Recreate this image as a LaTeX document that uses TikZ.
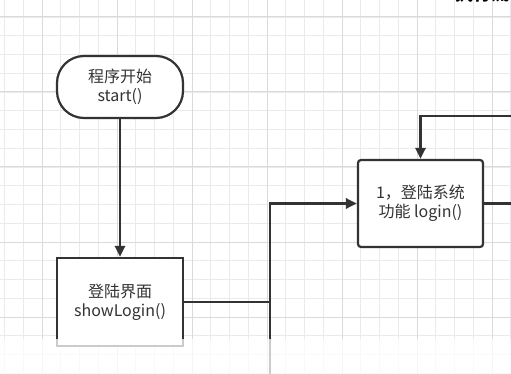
\documentclass[tikz,border=0pt]{standalone}
\usepackage{fontspec}
\setmainfont{Noto Sans CJK SC}
\usetikzlibrary{arrows.meta}
\definecolor{ink}{HTML}{333333}
\definecolor{gridminor}{HTML}{EAEAEA}
\definecolor{gridmajor}{HTML}{DADADA}
\tikzset{
  label/.style={text=ink, align=center, font=\fontsize{16}{19}\selectfont},
  terminal/.style={label, draw=ink, line width=2.2pt, fill=white, rounded corners=27pt,
    minimum width=126pt, minimum height=62pt},
  process/.style={label, draw=ink, line width=2.2pt, fill=white,
    minimum width=126pt, minimum height=88pt},
  flow/.style={draw=ink, line width=2.7pt, -{Triangle[length=11pt,width=10pt]}},
  line/.style={draw=ink, line width=2.7pt},
}
\begin{document}
\begin{tikzpicture}[x=1pt,y=-1pt]
        \useasboundingbox (0,0) rectangle (511,374);
        \clip (0,0) rectangle (511,374);
        \fill[white] (0,0) rectangle (511,374);
        \foreach \i in {0,...,27}
            \draw[gridminor, line width=0.8pt] ({4.5+18.75*\i},0) -- ++(0,374);
        \foreach \i in {0,...,20}
            \draw[gridminor, line width=0.8pt] (0,{-1.75+18.75*\i}) -- ++(511,0);
        \foreach \i in {0,...,6}
            \draw[gridmajor, line width=1pt] ({42+75*\i},0) -- ++(0,374);
        \foreach \i in {0,...,4}
            \draw[gridmajor, line width=1pt] (0,{17+75*\i}) -- ++(511,0);

        \node[anchor=south west, font=\fontsize{18}{18}\selectfont\bfseries] (title) at (452,6) {执行流程};

        \node[terminal] (start) at (120,87) {程序开始\\start()};
        \node[process] (show) at (120,302) {登陆界面\\showLogin()};
        \node[process, rounded corners=3pt, minimum width=125pt, minimum height=87pt] (login) at (420.5,203.5) {1，登陆系统\\功能 login()};

        \coordinate (down) at (270,374);
        \coordinate (back) at (511,116);
        \coordinate (out) at (511,203.5);

        \draw[flow] (start) -- (show);
        \draw[line] (show.east) -- (show.east -| down);
        \draw[flow] (down) |- (login.west);
        \draw[flow] (back) -| (login.north);
        \draw[line] (login.east) -- (out);

        \fill[white, opacity=0.75] (0,339) rectangle (511,374);
\end{tikzpicture}
\end{document}
